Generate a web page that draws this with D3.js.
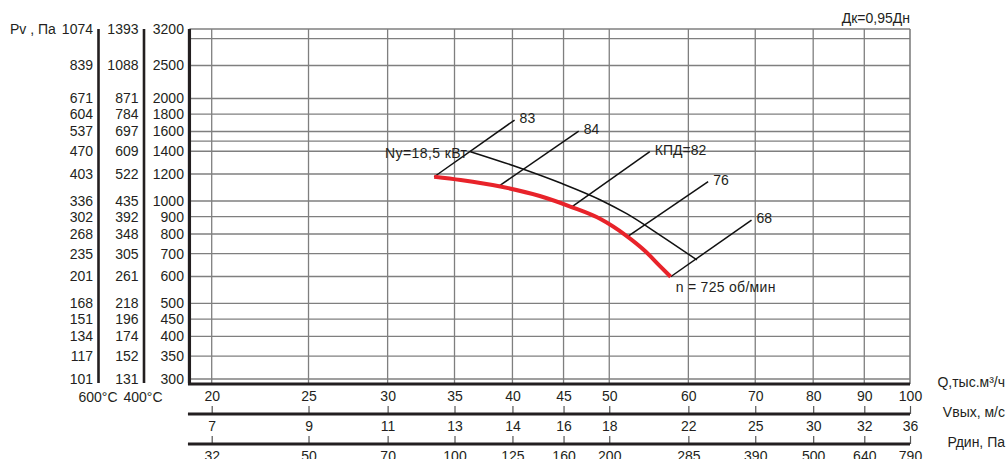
<!DOCTYPE html>
<html><head><meta charset="utf-8">
<script src="https://cdn.jsdelivr.net/npm/d3@7"></script>
<style>
body{margin:0;background:#fff}
svg{display:block}
text{font-family:"Liberation Sans",Arial,sans-serif;font-size:14px;fill:#231f20}
</style>
</head><body>
<svg id="c" width="1008" height="459"></svg>
<script>
// ---- data ----
const qTicks = [20,25,30,35,40,45,50,60,70,80,90,100];
const vOutLabels = ["7","9","11","13","14","16","18","22","25","30","32","36"];
const pDynLabels = ["32","50","70","100","125","160","200","285","390","500","640","790"];
const pTicks = [3200,2500,2000,1800,1600,1400,1200,1000,900,800,700,600,500,450,400,350,300];
const pv600 = [1074,839,671,604,537,470,403,336,302,268,235,201,168,151,134,117,101];
const pv400 = [1393,1088,871,784,697,609,522,435,392,348,305,261,218,196,174,152,131];
const pExtraGrid = [3000,1500];
// pressure curve at n = 725 rpm  [Q, P]
const pressureCurve = [[33.4,1178],[35.5,1152],[38.9,1103],[42.6,1034],[45.7,963],[49.0,885],[51.9,794],[54.3,713],[56.2,644],[57.6,599]];
// power curve Ny = 18,5 kW
const powerCurve = [[36.3,1396],[40.7,1250],[44.7,1129],[49.0,1007],[52.1,916],[56.2,794],[61.2,671]];
// efficiency lines
const effNames = ["83","84","КПД=82","76","68"];
const effLines = [
  [[33.4,1178],[40.2,1729]],
  [[38.8,1107],[46.6,1605]],
  [[45.9,962],[54.9,1396]],
  [[52.1,784],[62.8,1139]],
  [[57.6,599],[69.4,879]]
];

// ---- scales ----
const svg = d3.select("#c");
const x = d3.scaleLog().domain([20,100]).range([211.7,910]);
const y = d3.scaleLog().domain([300,3200]).range([379,29]);
const L = x(19), R = x(100), T = y(3200), B = 384;
const gridC = "#7f7f7f";

// grid
const g = svg.append("g");
g.selectAll(".hg").data(pTicks.filter(d=>d<3200).concat(pExtraGrid)).join("line")
  .attr("x1",L).attr("x2",R).attr("y1",d=>y(d)).attr("y2",d=>y(d))
  .attr("stroke",gridC).attr("stroke-width",1.3);
g.selectAll(".vg").data(qTicks.filter(d=>d<100)).join("line")
  .attr("x1",d=>x(d)).attr("x2",d=>x(d)).attr("y1",T).attr("y2",B)
  .attr("stroke",gridC).attr("stroke-width",1.3);
// top / right frame
g.append("line").attr("x1",L).attr("x2",R).attr("y1",T).attr("y2",T).attr("stroke",gridC).attr("stroke-width",1.6);
g.append("line").attr("x1",R).attr("x2",R).attr("y1",T).attr("y2",B).attr("stroke",gridC).attr("stroke-width",1.6);

// left pressure columns
const cols = [
  {x:98.5, labels:pv600},
  {x:144, labels:pv400},
  {x:L, labels:pTicks}
];
cols.forEach(c=>{
  const ax = d3.axisLeft(y).tickValues(pTicks).tickFormat((d,i)=>c.labels[i]).tickSize(0).tickPadding(5.5);
  const a = svg.append("g").attr("transform",`translate(${c.x},0)`).call(ax);
  a.select(".domain").remove();
  a.selectAll("text").attr("font-size",null).attr("font-family",null).attr("fill",null).style("font-size","14px");
  svg.append("line").attr("x1",c.x).attr("x2",c.x).attr("y1",T).attr("y2",B-1)
    .attr("stroke","#231f20").attr("stroke-width",c.x===L?3.2:2.6);
});
svg.append("text").attr("x",10).attr("y",y(3200)).attr("dy","0.35em").text("Pv , Па");
svg.append("text").attr("x",98).attr("y",397).attr("dy","0.35em").attr("text-anchor","middle").text("600°C");
svg.append("text").attr("x",143).attr("y",397).attr("dy","0.35em").attr("text-anchor","middle").text("400°C");

// bottom axes
const bottoms = [
  {y:B, labels:qTicks.map(String), title:"Q,тыс.м³/ч", tick:0},
  {y:414, labels:vOutLabels, title:"Vвых, м/с", tick:-8},
  {y:444, labels:pDynLabels, title:"Рдин, Па", tick:-8}
];
bottoms.forEach(b=>{
  const ax = d3.axisBottom(x).tickValues(qTicks).tickFormat((d,i)=>b.labels[i]).tickSizeInner(b.tick).tickSizeOuter(0).tickPadding(7);
  const a = svg.append("g").attr("transform",`translate(0,${b.y})`).call(ax);
  a.select(".domain").remove();
  a.selectAll(".tick line").attr("stroke","#555").attr("stroke-width",1.2);
  a.selectAll("text").attr("font-size",null).attr("font-family",null).attr("fill",null).style("font-size","14px");
  svg.append("line").attr("x1",L-1.5).attr("x2",R).attr("y1",b.y).attr("y2",b.y)
    .attr("stroke","#231f20").attr("stroke-width",3.2);
  svg.append("text").attr("x",1005).attr("y",b.y-2).attr("dy","0.35em").attr("text-anchor","end").text(b.title);
});

svg.append("text").attr("x",R).attr("y",18).attr("dy","0.35em").attr("text-anchor","end").text("Дк=0,95Дн");

// curves
const line = d3.line().x(d=>x(d[0])).y(d=>y(d[1]));
const smooth = d3.line().x(d=>x(d[0])).y(d=>y(d[1])).curve(d3.curveMonotoneX);

svg.selectAll(".eff").data(effLines).join("path")
  .attr("d",line).attr("fill","none").attr("stroke","#111").attr("stroke-width",1.5);
svg.selectAll(".effl").data(effLines).join("text")
  .attr("x",d=>x(d[1][0])+5).attr("y",d=>y(d[1][1])-2).attr("dy","0.35em")
  .text((d,i)=>effNames[i]);

svg.append("path").datum(powerCurve).attr("d",smooth).attr("fill","none")
  .attr("stroke","#111").attr("stroke-width",1.5);
svg.append("path").datum(pressureCurve).attr("d",smooth).attr("fill","none")
  .attr("stroke","#e8232a").attr("stroke-width",4);

svg.append("text").attr("x",x(powerCurve[0][0])-3).attr("y",y(powerCurve[0][1])+1.5).attr("dy","0.35em")
  .attr("text-anchor","end").style("letter-spacing","0.4px").text("Ny=18,5 кВт");
const last = pressureCurve[pressureCurve.length-1];
svg.append("text").attr("x",x(last[0])+5).attr("y",y(last[1])+10).attr("dy","0.35em")
  .style("letter-spacing","0.3px").text("n = 725 об/мин");
</script>
</body></html>
